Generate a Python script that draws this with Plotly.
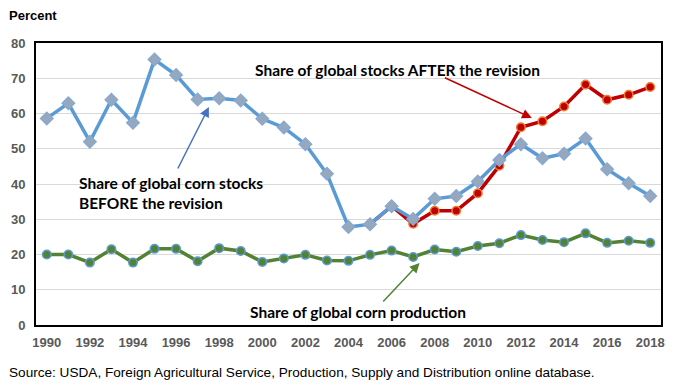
import plotly.graph_objects as go

years = [str(y) for y in range(1990, 2019)]
before = [58.6, 62.9, 52.0, 63.9, 57.4, 75.3, 70.9, 64.0, 64.3, 63.7,
          58.5, 56.0, 51.3, 42.9, 27.8, 28.6, 33.7, 30.1, 35.8, 36.6,
          40.7, 46.8, 51.3, 47.3, 48.6, 52.9, 44.2, 40.2, 36.6]
after_years = [str(y) for y in range(2005, 2019)]
after = [28.6, 33.7, 28.7, 32.4, 32.4, 37.4, 45.2, 56.1, 57.8, 62.0,
         68.2, 63.9, 65.3, 67.5]
production = [20.0, 20.0, 17.7, 21.5, 17.7, 21.6, 21.6, 18.1, 21.8, 21.0,
              17.9, 18.9, 19.9, 18.3, 18.2, 19.9, 21.1, 19.3, 21.4, 20.8,
              22.4, 23.2, 25.5, 24.1, 23.5, 26.0, 23.3, 23.9, 23.3]
x_ticks = [str(y) for y in range(1990, 2019, 2)]

fig = go.Figure()
fig.add_trace(go.Scatter(x=after_years, y=after, mode="lines+markers",
                         line=dict(color="#C00000", width=3.5),
                         marker=dict(symbol="circle", size=8.5, color="#C00000",
                                     line=dict(color="#ED7D31", width=1.5)),
                         showlegend=False))
fig.add_trace(go.Scatter(x=years, y=before, mode="lines+markers",
                         line=dict(color="#5B9BD5", width=3.5),
                         marker=dict(symbol="diamond", size=9.5, color="#98A8BC",
                                     line=dict(color="#86A9D2", width=1.5)),
                         showlegend=False))
fig.add_trace(go.Scatter(x=years, y=production, mode="lines+markers",
                         line=dict(color="#548235", width=3.5),
                         marker=dict(symbol="circle", size=8.5, color="#548235",
                                     line=dict(color="#5B9BD5", width=1.5)),
                         showlegend=False))

ann_font = dict(family="Lato", size=15.5, color="black")

fig.update_layout(
    width=673, height=392,
    margin=dict(l=36, r=8, t=43, b=67),
    paper_bgcolor="white", plot_bgcolor="white",
    font=dict(family="Liberation Sans, Arial", size=13, color="#595959"),
    xaxis=dict(type="category", categoryorder="array", categoryarray=years,
               range=[-0.5, 28.5], tickmode="array", tickvals=x_ticks,
               ticktext=["<b>%s</b>" % t for t in x_ticks],
               showline=True, linecolor="black", linewidth=2, mirror=True,
               showgrid=False, ticks="", ticklabelstandoff=4, fixedrange=True),
    yaxis=dict(range=[0, 80], tickvals=list(range(0, 81, 10)),
               ticktext=["<b>%d</b>" % v for v in range(0, 81, 10)],
               showline=True, linecolor="black", linewidth=2, mirror=True,
               showgrid=True, gridcolor="#D9D9D9", gridwidth=1, zeroline=False,
               ticks="", ticklabelstandoff=6, fixedrange=True),
)

def px_x(p):
    return (p - 36) / (665 - 36)

def px_y(p):
    return 1 - (p - 43) / (325 - 43)

def text(x, y, s, xanchor="center", font=ann_font):
    fig.add_annotation(x=px_x(x), y=px_y(y), xref="paper", yref="paper", text=s,
                       showarrow=False, xanchor=xanchor, yanchor="middle",
                       font=font, align="left")

def arrow(x0, y0, x1, y1, color):
    fig.add_annotation(x=px_x(x1), y=px_y(y1), ax=px_x(x0), ay=px_y(y0),
                       xref="x domain", yref="y domain", axref="x domain", ayref="y domain",
                       text="", showarrow=True, arrowhead=2, arrowsize=1.3,
                       arrowwidth=1.5, arrowcolor=color)

text(400, 70, "<b>Share of global stocks AFTER the revision</b>")
arrow(446, 77, 535, 118, "#C00000")
text(77, 193, "<b>Share of global corn stocks<br>BEFORE the revision</b>", xanchor="left")
arrow(178, 170, 210, 107, "#4472C4")
text(360, 312, "<b>Share of global corn production</b>")
arrow(384, 303, 422, 263, "#548235")

text(7, 15, "<b>Percent</b>", xanchor="left",
     font=dict(family="Liberation Sans, Arial", size=13, color="black"))
text(7, 372, "Source: USDA, Foreign Agricultural Service, Production, Supply and Distribution online database.",
     xanchor="left", font=dict(family="Liberation Sans, Arial", size=13.6, color="black"))

fig.write_html("out.html", config={"displayModeBar": False},
               post_script="document.body.style.margin='0';document.body.style.padding='0';")
